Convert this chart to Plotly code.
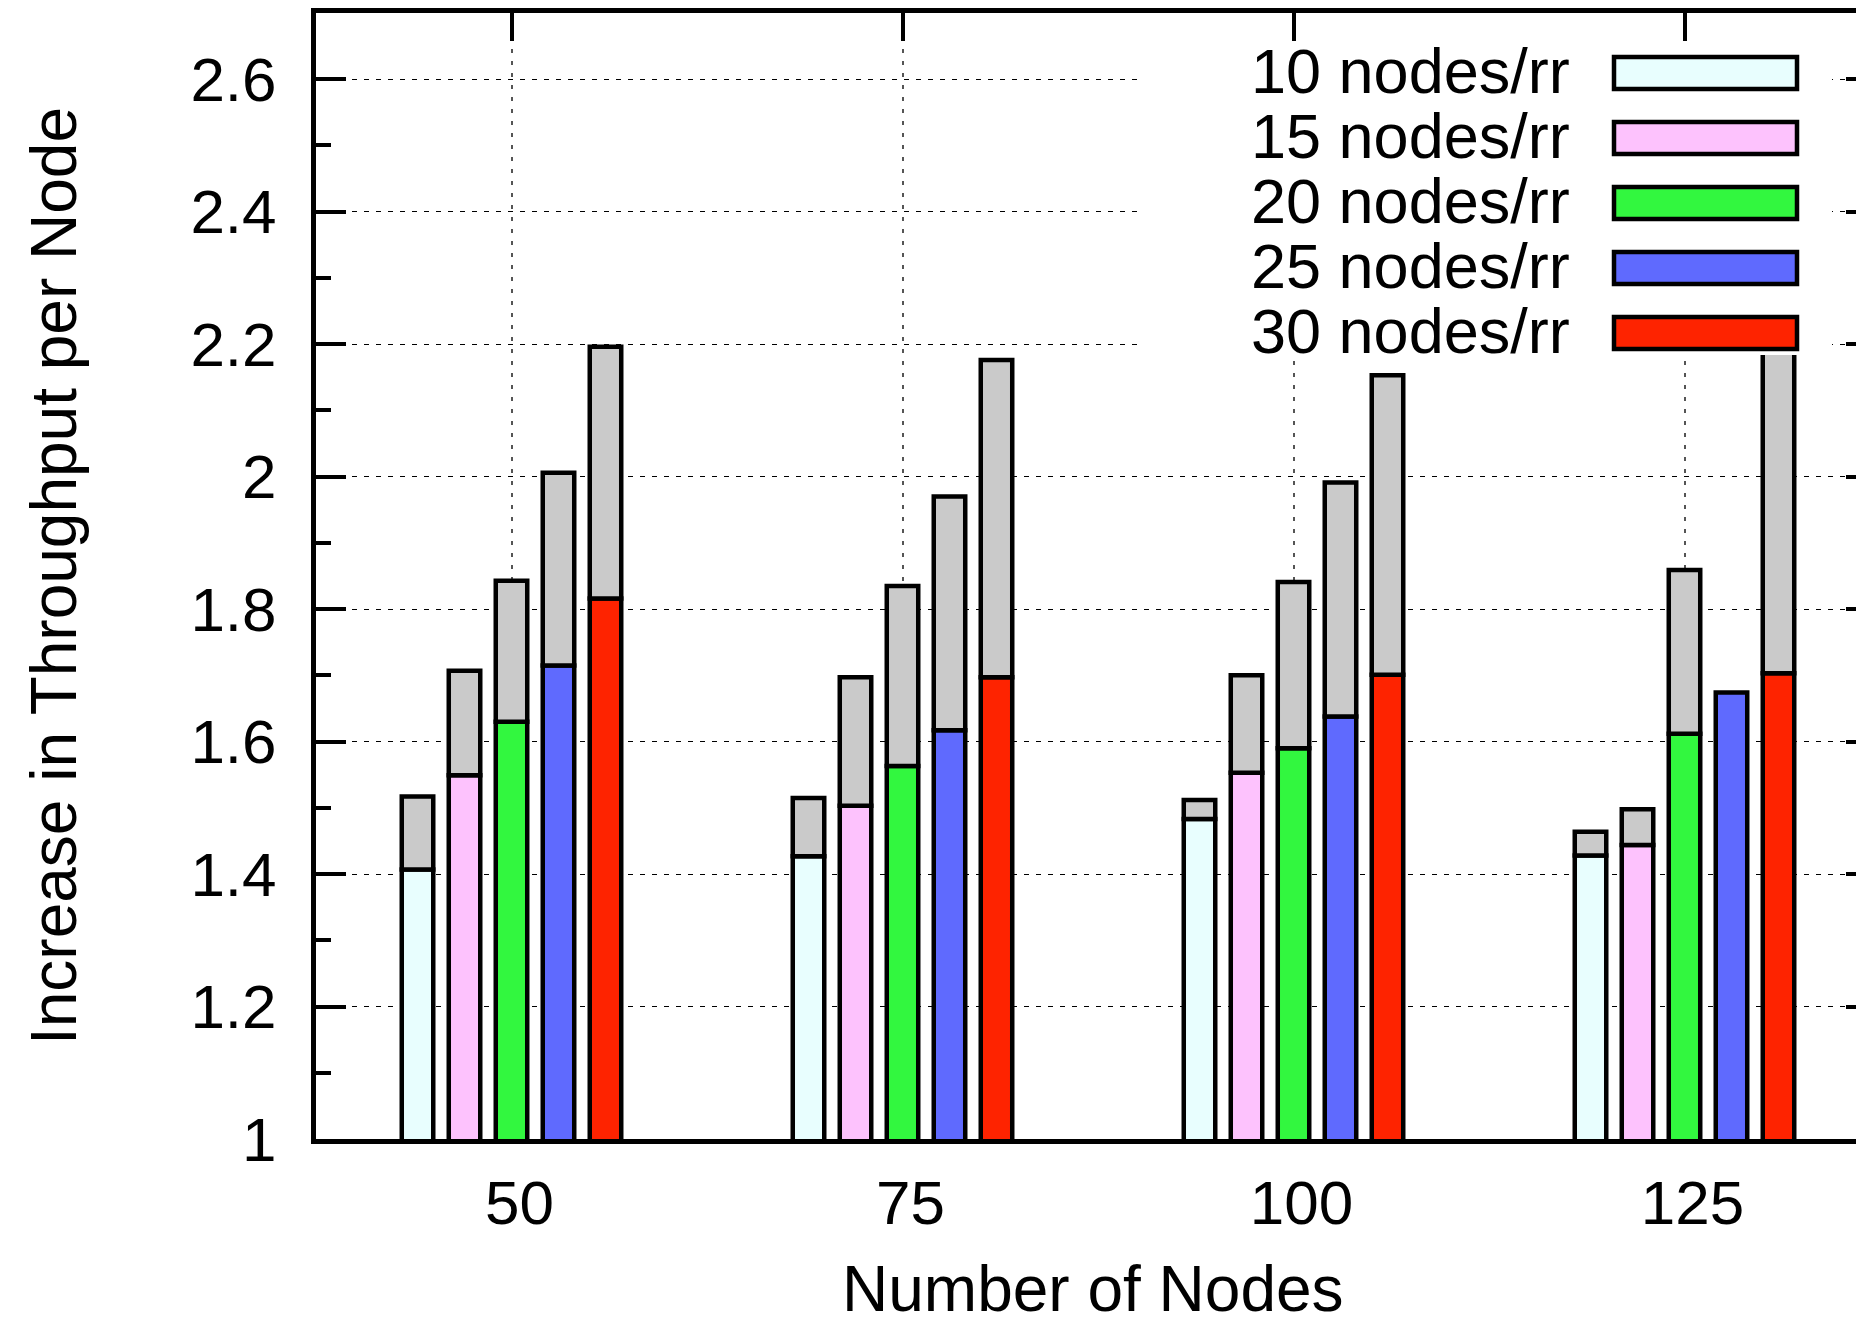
import plotly.graph_objects as go

# ---------------- data ----------------
categories = ["50", "75", "100", "125"]
series_names = ["10 nodes/rr", "15 nodes/rr", "20 nodes/rr", "25 nodes/rr", "30 nodes/rr"]

# lower (coloured) part of each bar
base_10 = [1.407, 1.427, 1.483, 1.428]
base_15 = [1.549, 1.503, 1.553, 1.444]
base_20 = [1.630, 1.563, 1.590, 1.612]
base_25 = [1.715, 1.617, 1.638, 1.674]
base_30 = [1.816, 1.697, 1.701, 1.703]

# total height of each bar (top of grey part)
top_10 = [1.517, 1.515, 1.512, 1.464]
top_15 = [1.707, 1.697, 1.700, 1.498]
top_20 = [1.843, 1.835, 1.841, 1.859]
top_25 = [2.006, 1.970, 1.991, 1.674]
top_30 = [2.196, 2.176, 2.153, 2.250]

y_tick_vals = [1.0, 1.2, 1.4, 1.6, 1.8, 2.0, 2.2, 2.4, 2.6]
y_tick_text = ["1", "1.2", "1.4", "1.6", "1.8", "2", "2.2", "2.4", "2.6"]
y_range = [1.0, 2.7]

x_title = "Number of Nodes"
y_title = "Increase in Throughput per Node"

# ---------------- styles ----------------
colors = ["#e8fefe", "#fdc2fd", "#32f73f", "#5f6afe", "#fe2300"]
grey = "#cacaca"
FONT = "Liberation Sans, Arial, Helvetica, sans-serif"
FS = 62
FS_TITLE = 64

bases = [base_10, base_15, base_20, base_25, base_30]
tops = [top_10, top_15, top_20, top_25, top_30]

fig = go.Figure()
for i, (name, b, t, c) in enumerate(zip(series_names, bases, tops, colors)):
    fig.add_trace(go.Bar(
        x=categories, y=b, name=name, offsetgroup=str(i),
        marker=dict(color=c, line=dict(color="black", width=4.5)),
        showlegend=False,
    ))
    extra = [(tt - bb) if (tt - bb) > 1e-9 else None for tt, bb in zip(t, b)]
    fig.add_trace(go.Bar(
        x=categories, y=extra, base=b, name=name + " (extra)", offsetgroup=str(i),
        marker=dict(color=grey, line=dict(color="black", width=4.5)),
        showlegend=False,
    ))

# invisible helper trace for the mirrored (top / right) tick axes
fig.add_trace(go.Scatter(x=categories, y=[None] * len(categories), xaxis="x2", yaxis="y2",
                         mode="markers", showlegend=False, hoverinfo="skip"))

W_FIG, H_FIG = 1856, 1328
PL, PR, PT, PB = 316, 1856, 13, 1139
x_range = [-0.5, -0.5 + (PR - PL) / 391.0]

fig.update_layout(
    width=W_FIG, height=H_FIG,
    margin=dict(l=PL, r=W_FIG - PR, t=PT, b=H_FIG - PB, pad=0),
    paper_bgcolor="white", plot_bgcolor="white",
    barmode="group", bargap=0.399, bargroupgap=0.33,
    font=dict(family=FONT, size=FS, color="black"),
    showlegend=False,
    xaxis=dict(
        type="category", categoryarray=categories, range=x_range,
        showline=True, linewidth=5, linecolor="black", mirror=False,
        ticks="", showgrid=True, gridcolor="#555555", gridwidth=2, griddash="4px,8px",
        zeroline=False, tickfont=dict(size=FS), ticklabelshift=8, ticklabelstandoff=6,
        automargin=False,
    ),
    xaxis2=dict(
        type="category", categoryarray=categories, range=x_range,
        overlaying="x", side="top", anchor="y2",
        showline=True, linewidth=5, linecolor="black",
        ticks="inside", ticklen=28, tickwidth=4, tickcolor="black",
        showticklabels=False, showgrid=False, zeroline=False, automargin=False,
    ),
    yaxis=dict(
        range=y_range, tickmode="array", tickvals=y_tick_vals, ticktext=y_tick_text,
        showline=True, linewidth=5, linecolor="black", mirror=False,
        ticks="inside", ticklen=30, tickwidth=4, tickcolor="black",
        minor=dict(tick0=1.0, dtick=0.1, ticks="inside", ticklen=15, tickwidth=4,
                   tickcolor="black", showgrid=False),
        showgrid=True, gridcolor="black", gridwidth=1.3, griddash="5px,7px",
        zeroline=False, tickfont=dict(size=FS), ticklabelstandoff=22,
        title=dict(text=y_title, font=dict(size=FS_TITLE), standoff=94),
        automargin=False,
    ),
    yaxis2=dict(
        range=y_range, tickmode="array", tickvals=y_tick_vals,
        overlaying="y", side="right", anchor="x2",
        showline=False, ticks="inside", ticklen=10, tickwidth=4, tickcolor="black",
        showticklabels=False, showgrid=False, zeroline=False, automargin=False,
    ),
)


def px(x):
    return (x - PL) / (PR - PL)


def py(y):
    return (PB - y) / (PB - PT)


# ---- key (gnuplot style: text left, swatch right), opaque white background ----
shapes = [dict(type="rect", xref="paper", yref="paper", layer="above",
               x0=px(1142), x1=px(1832), y0=py(355), y1=py(42),
               fillcolor="white", line=dict(width=0))]
annotations = []
for i, (name, c) in enumerate(zip(series_names, colors)):
    yc = 73 + 65 * i
    shapes.append(dict(type="rect", xref="paper", yref="paper", layer="above",
                       x0=px(1614), x1=px(1797), y0=py(yc + 16), y1=py(yc - 16),
                       fillcolor=c, line=dict(color="black", width=4.5)))
    annotations.append(dict(xref="paper", yref="paper", x=px(1572), y=py(yc - 2),
                            xanchor="right", yanchor="middle", showarrow=False,
                            text=name, font=dict(size=FS + 1, family=FONT, color="black")))

# x-axis title (kept fully inside the page)
annotations.append(dict(xref="paper", yref="paper", x=px(1093), y=py(1327),
                        xanchor="center", yanchor="bottom", showarrow=False,
                        text=x_title, font=dict(size=FS_TITLE, family=FONT, color="black")))

fig.update_layout(shapes=shapes, annotations=annotations)

fig.write_html("out.html")
